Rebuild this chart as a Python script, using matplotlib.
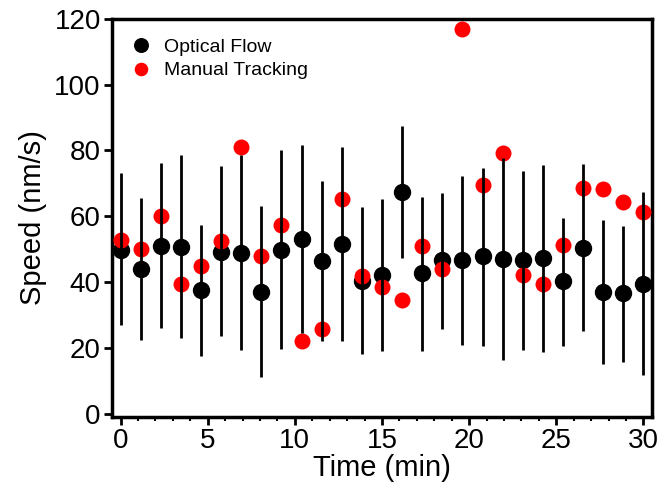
import numpy as np
import matplotlib.pyplot as plt

# time points (min), 27 frames evenly spaced over 30 min
time = np.linspace(0, 30, 27)

# optical flow: mean speed and error bar ends (nm/s)
flow = [49.9, 44.0, 50.9, 50.8, 37.6, 49.2, 48.9, 36.9, 49.9, 53.1, 46.5, 51.7, 40.2, 42.2,
        67.4, 42.7, 46.8, 46.8, 47.8, 47.0, 46.8, 47.2, 40.2, 50.4, 37.1, 36.6, 39.5]
flow_hi = [73.1, 65.5, 76.1, 78.6, 57.5, 75.3, 78.7, 63.1, 80.2, 81.6, 70.7, 81.2, 62.9, 65.3,
           87.3, 66.0, 67.2, 72.1, 74.8, 77.6, 73.8, 75.5, 59.5, 76.0, 59.0, 57.2, 67.4]
flow_lo = [27.0, 22.4, 25.9, 23.1, 17.6, 23.6, 19.3, 11.2, 19.8, 24.4, 22.2, 22.2, 18.1, 19.1,
           47.3, 19.1, 25.6, 20.9, 20.5, 16.3, 19.3, 18.8, 20.5, 25.1, 15.1, 15.8, 11.7]

# manual tracking speeds (nm/s)
manual = [52.9, 50.2, 60.2, 39.5, 45.0, 52.5, 81.2, 47.8, 57.4, 22.2, 25.6, 65.4, 41.9, 38.5,
          34.6, 51.1, 44.1, 117.0, 69.5, 79.3, 42.2, 39.4, 51.4, 68.7, 68.2, 64.4, 61.3]

plt.rcParams['font.family'] = ['Liberation Sans', 'DejaVu Sans']

fig = plt.figure(figsize=(6.62, 4.97), dpi=100)
ax = fig.add_axes([0.169, 0.161, 0.816, 0.801])

flow = np.array(flow)
yerr = [flow - np.array(flow_lo), np.array(flow_hi) - flow]

ax.plot(time, flow, 'o', color='black', ms=11.5, zorder=2, label='Optical Flow')
ax.plot(time, manual, 'o', color='red', ms=11.5, mec='none', zorder=3, label='Manual Tracking')
ax.errorbar(time, flow, yerr=yerr, fmt='none', ecolor='black', elinewidth=2, capsize=0, zorder=4)

ax.set_xlim(-0.5, 30.5)
ax.set_ylim(-1, 120)
ax.set_xticks(range(0, 31, 5))
ax.set_xticks(range(0, 31), minor=True)
ax.set_yticks(range(0, 121, 20))

for s in ax.spines.values():
    s.set_linewidth(2.5)
ax.tick_params(which='major', length=6, width=2, labelsize=20, pad=2)
ax.tick_params(which='minor', length=3, width=1.5)
ax.tick_params(axis='y', which='minor', left=False)

ax.set_xlabel('Time (min)', fontsize=21, labelpad=0)
ax.set_ylabel('Speed (nm/s)', fontsize=21, labelpad=5)

ax.legend(loc='upper left', bbox_to_anchor=(-0.01, 0.99), frameon=False, fontsize=14,
          markerscale=0.85, handletextpad=0.15, labelspacing=0.3, borderaxespad=0.4)

plt.savefig('out.png')
